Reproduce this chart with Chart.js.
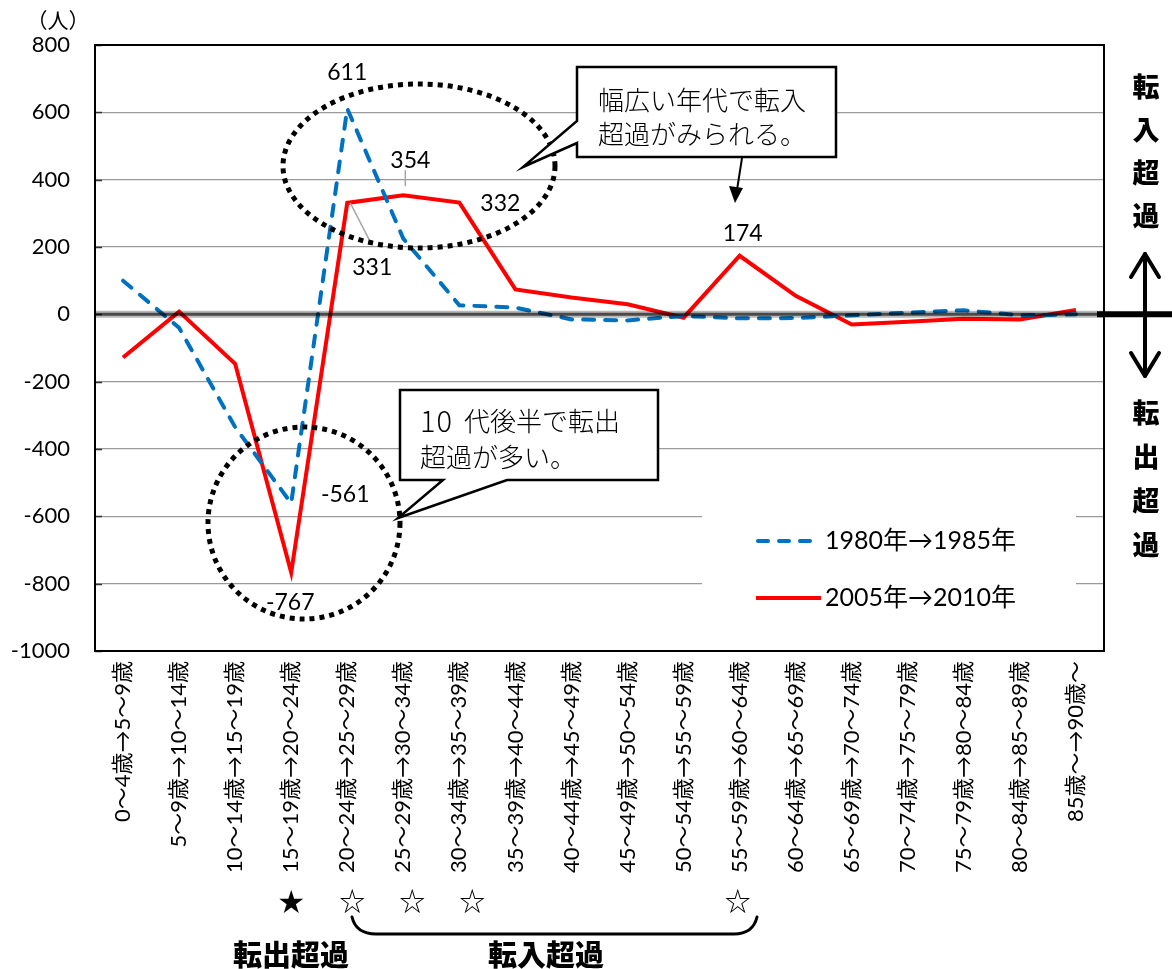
<!DOCTYPE html>
<html lang="ja">
<head>
<meta charset="utf-8">
<script src="https://cdn.jsdelivr.net/npm/chart.js@4.4.0/dist/chart.umd.min.js"></script>
<style>
  html, body { margin: 0; padding: 0; background: #fff; }
  canvas { display: block; }
</style>
</head>
<body>
<canvas id="migration" width="1172" height="969"></canvas>
<script>
// Cohort transitions (age group at start -> age group five years later)
const ageGroups = [
  '0〜4歳→5〜9歳', '5〜9歳→10〜14歳', '10〜14歳→15〜19歳', '15〜19歳→20〜24歳',
  '20〜24歳→25〜29歳', '25〜29歳→30〜34歳', '30〜34歳→35〜39歳', '35〜39歳→40〜44歳',
  '40〜44歳→45〜49歳', '45〜49歳→50〜54歳', '50〜54歳→55〜59歳', '55〜59歳→60〜64歳',
  '60〜64歳→65〜69歳', '65〜69歳→70〜74歳', '70〜74歳→75〜79歳', '75〜79歳→80〜84歳',
  '80〜84歳→85〜89歳', '85歳〜→90歳〜'
];

// Net migration (persons): positive = net inflow, negative = net outflow
const net1980to1985 = [100, -40, -335, -561, 611, 225, 27, 20, -15, -18, -5, -12, -11, -3, 5, 12, -3, 0];
const net2005to2010 = [-128, 8, -147, -767, 331, 354, 332, 74, 50, 30, -10, 174, 55, -30, -22, -13, -15, 13];

const seriesNames = ['1980年→1985年', '2005年→2010年'];

// Value axis range
const yMin = -1000;
const yMax = 800;
const yStep = 200;

// Points whose values are written on the chart: [series, category index]
const labelledPoints = [[0, 4], [1, 5], [1, 4], [1, 6], [1, 11], [0, 3], [1, 3]];

const JP = "'Noto Sans CJK JP'";
const NUM = "Lato, 'Noto Sans CJK JP'";

// Label placement relative to its point, plus optional leader line
const labelPlacement = {
  '0-4':  { dx: 0,  dy: -36 },
  '1-5':  { dx: 7,  dy: -35, leader: [2, -25, 2, -9] },
  '1-4':  { dx: 25, dy: 65,  leader: [3, 0, 22, 37] },
  '1-6':  { dx: 41, dy: 1 },
  '1-11': { dx: 3,  dy: -22 },
  '0-3':  { dx: 54, dy: -9 },
  '1-3':  { dx: -1, dy: 30 }
};

function dottedEllipse(ctx, cx, cy, rx, ry) {
  ctx.save();
  ctx.strokeStyle = '#000';
  ctx.lineWidth = 5;
  ctx.setLineDash([5, 5]);
  ctx.beginPath();
  ctx.ellipse(cx, cy, rx, ry, 0, 0, Math.PI * 2);
  ctx.stroke();
  ctx.restore();
}

// rows: array of text rows, each row an array of [text, font, gapAfter]
function callout(ctx, pts, rows, tx, ty, lh) {
  ctx.save();
  ctx.beginPath();
  ctx.moveTo(pts[0][0], pts[0][1]);
  for (let i = 1; i < pts.length; i++) ctx.lineTo(pts[i][0], pts[i][1]);
  ctx.closePath();
  ctx.fillStyle = '#fff';
  ctx.fill();
  ctx.lineWidth = 2.5;
  ctx.strokeStyle = '#000';
  ctx.lineJoin = 'miter';
  ctx.stroke();
  ctx.fillStyle = '#000';
  ctx.textAlign = 'left';
  ctx.textBaseline = 'middle';
  rows.forEach((row, k) => {
    let x = tx;
    row.forEach(([t, font, gap]) => {
      ctx.font = font;
      ctx.fillText(t, x, ty + k * lh);
      x += ctx.measureText(t).width + (gap || 0);
    });
  });
  ctx.restore();
}

function chevron(ctx, x, y, dir) {
  ctx.beginPath();
  ctx.moveTo(x - 14, y - dir * 23);
  ctx.lineTo(x, y);
  ctx.lineTo(x + 14, y - dir * 23);
  ctx.stroke();
}

const CALLOUT_FONT = '300 26px ' + JP;

const decorations = {
  id: 'decorations',
  beforeDatasetsDraw(chart) {
    const { ctx, chartArea: a, scales: { y } } = chart;
    ctx.save();
    // inward tick marks on the value axis
    ctx.strokeStyle = '#333';
    ctx.lineWidth = 1.5;
    for (let v = yMin; v <= yMax; v += yStep) {
      const py = Math.round(y.getPixelForValue(v)) + 0.5;
      ctx.beginPath();
      ctx.moveTo(a.left, py);
      ctx.lineTo(a.left + 7, py);
      ctx.stroke();
    }
    // legend backdrop
    ctx.fillStyle = '#fff';
    ctx.fillRect(702, 470, 374, 170);
    ctx.restore();
  },
  afterDatasetsDraw(chart) {
    const { ctx, chartArea: a, scales: { y } } = chart;
    const y0 = y.getPixelForValue(0);
    ctx.save();

    // zero line
    ctx.strokeStyle = 'rgba(0,0,0,0.28)';
    ctx.lineWidth = 7;
    ctx.beginPath(); ctx.moveTo(a.left, y0); ctx.lineTo(a.right, y0); ctx.stroke();
    ctx.strokeStyle = 'rgba(0,0,0,0.6)';
    ctx.lineWidth = 3;
    ctx.beginPath(); ctx.moveTo(a.left, y0); ctx.lineTo(a.right, y0); ctx.stroke();

    // frame
    ctx.strokeStyle = '#000';
    ctx.lineWidth = 2;
    ctx.strokeRect(a.left, a.top, a.right - a.left, a.bottom - a.top);

    // legend
    const ds = chart.data.datasets;
    ctx.lineWidth = 4;
    ctx.lineCap = 'round';
    ctx.strokeStyle = ds[0].borderColor;
    ctx.setLineDash([10, 11]);
    ctx.beginPath(); ctx.moveTo(758, 541); ctx.lineTo(812, 541); ctx.stroke();
    ctx.setLineDash([]);
    ctx.lineCap = 'butt';
    ctx.strokeStyle = ds[1].borderColor;
    ctx.beginPath(); ctx.moveTo(756, 598); ctx.lineTo(821, 598); ctx.stroke();
    ctx.fillStyle = '#000';
    ctx.font = '25px ' + NUM;
    ctx.textAlign = 'left';
    ctx.textBaseline = 'middle';
    ctx.fillText(ds[0].label, 825, 541);
    ctx.fillText(ds[1].label, 825, 598);

    // value labels
    ctx.font = '23px ' + NUM;
    ctx.textAlign = 'center';
    labelledPoints.forEach(([s, i]) => {
      const p = chart.getDatasetMeta(s).data[i];
      const cfg = labelPlacement[s + '-' + i];
      if (cfg.leader) {
        const [x1, y1, x2, y2] = cfg.leader;
        ctx.strokeStyle = '#a6a6a6';
        ctx.lineWidth = 1.5;
        ctx.beginPath();
        ctx.moveTo(p.x + x1, p.y + y1);
        ctx.lineTo(p.x + x2, p.y + y2);
        ctx.stroke();
      }
      ctx.fillStyle = '#000';
      ctx.fillText(String(ds[s].data[i]), p.x + cfg.dx, p.y + cfg.dy);
    });

    // highlight rings
    dottedEllipse(ctx, 419, 166, 136, 82);
    dottedEllipse(ctx, 304, 523, 96, 96);

    // callouts
    callout(ctx, [[577, 67], [836, 67], [836, 157], [577, 157], [577, 143], [523, 167], [577, 121]],
      [[['幅広い年代で転入', CALLOUT_FONT]], [['超過がみられる。', CALLOUT_FONT]]], 598, 100, 34);
    callout(ctx, [[400, 390], [658, 390], [658, 480], [507, 480], [398, 518], [443, 480], [400, 480]],
      [[['1', '300 29px ' + JP, 1], ['0', '300 29px ' + JP, 12], ['代後半で転出', CALLOUT_FONT]],
       [['超過が多い。', CALLOUT_FONT]]], 420, 421, 36);

    // arrow from the upper callout to the 55-59 peak
    ctx.strokeStyle = '#000';
    ctx.fillStyle = '#000';
    ctx.lineWidth = 2;
    ctx.beginPath(); ctx.moveTo(742, 158); ctx.lineTo(737, 190); ctx.stroke();
    ctx.beginPath(); ctx.moveTo(735, 203); ctx.lineTo(729, 186); ctx.lineTo(743, 188); ctx.closePath(); ctx.fill();

    ctx.restore();
  },
  afterDraw(chart) {
    const { ctx, scales: { x, y } } = chart;
    const y0 = y.getPixelForValue(0);
    ctx.save();

    // side marker: inflow above, outflow below
    ctx.strokeStyle = '#000';
    ctx.lineWidth = 6;
    ctx.beginPath(); ctx.moveTo(1097, y0); ctx.lineTo(1172, y0); ctx.stroke();
    ctx.lineWidth = 4;
    ctx.lineCap = 'round';
    ctx.lineJoin = 'round';
    ctx.beginPath(); ctx.moveTo(1145, y0); ctx.lineTo(1145, 254); ctx.stroke();
    chevron(ctx, 1145, 254, -1);
    ctx.beginPath(); ctx.moveTo(1145, y0); ctx.lineTo(1145, 376); ctx.stroke();
    chevron(ctx, 1145, 376, 1);

    ctx.fillStyle = '#000';
    ctx.font = '900 27px ' + JP;
    ctx.textAlign = 'center';
    ctx.textBaseline = 'middle';
    ['転', '入', '超', '過'].forEach((c, k) => ctx.fillText(c, 1146, 87 + k * 43));
    ['転', '出', '超', '過'].forEach((c, k) => ctx.fillText(c, 1146, 413 + k * 44));

    // unit label
    ctx.font = '21px ' + JP;
    ctx.fillText('（人）', 58, 20);

    // stars under the highlighted cohorts
    ctx.font = '26px ' + JP;
    ctx.fillText('★', x.getPixelForValue(3), 901);
    [[4, 5], [5, 9], [6, 13], [11, -2]].forEach(([i, off]) => {
      ctx.fillText('☆', x.getPixelForValue(i) + off, 901);
    });

    // brace over the inflow span
    ctx.lineWidth = 3;
    ctx.lineCap = 'round';
    ctx.beginPath();
    ctx.moveTo(352, 917);
    ctx.quadraticCurveTo(356, 934, 376, 934);
    ctx.lineTo(734, 934);
    ctx.quadraticCurveTo(753, 934, 757, 917);
    ctx.stroke();

    ctx.font = '900 29px ' + JP;
    ctx.fillText('転出超過', 291, 955);
    ctx.fillText('転入超過', 546, 955);

    ctx.restore();
  }
};

new Chart(document.getElementById('migration'), {
  type: 'line',
  data: {
    labels: ageGroups,
    datasets: [
      {
        label: seriesNames[0],
        data: net1980to1985,
        borderColor: '#0070C0',
        borderWidth: 4,
        borderDash: [11, 11],
        borderCapStyle: 'round',
        pointRadius: 0,
        tension: 0,
        fill: false
      },
      {
        label: seriesNames[1],
        data: net2005to2010,
        borderColor: '#FF0000',
        borderWidth: 4,
        borderJoinStyle: 'miter',
        pointRadius: 0,
        tension: 0,
        fill: false
      }
    ]
  },
  options: {
    responsive: false,
    animation: false,
    devicePixelRatio: 1,
    layout: { padding: { top: 45, right: 68, left: 0, bottom: 0 } },
    plugins: {
      legend: { display: false },
      tooltip: { enabled: false }
    },
    scales: {
      x: {
        type: 'category',
        offset: true,
        grid: { display: false, drawTicks: false },
        border: { display: true, color: '#000', width: 2 },
        ticks: {
          autoSkip: false,
          maxRotation: 90,
          minRotation: 90,
          padding: 10,
          color: '#000',
          font: { family: NUM, size: 22 }
        },
        afterFit(scale) { scale.height = 318; }
      },
      y: {
        min: yMin,
        max: yMax,
        grid: {
          drawTicks: false,
          lineWidth: 1.2,
          color: (c) => (c.tick && c.tick.value === 0) ? 'rgba(0,0,0,0)' : '#9a9a9a'
        },
        border: { display: true, color: '#000', width: 2 },
        ticks: {
          stepSize: yStep,
          padding: 25,
          color: '#000',
          font: { family: NUM, size: 22 },
          callback: (v) => String(v)
        },
        afterFit(scale) { scale.width = 95; }
      }
    }
  },
  plugins: [decorations]
});
</script>
</body>
</html>
